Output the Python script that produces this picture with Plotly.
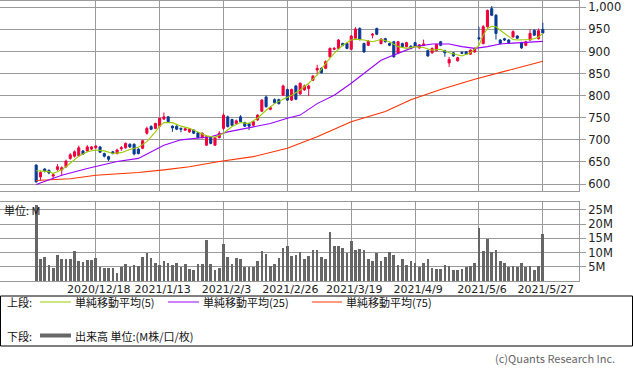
import plotly.graph_objects as go

# ---------------- data ----------------
tick_index = [14, 29, 44, 59, 74, 89, 104, 119]
tick_labels = ["2020/12/18", "2021/1/13", "2021/2/3", "2021/2/26",
               "2021/3/19", "2021/4/9", "2021/5/6", "2021/5/27"]

open_ = [643, 616, 634, 631, 618, 633, 632, 639, 658, 663,
         664, 675, 675, 679, 682, 684, 669, 662, 673, 669,
         680, 682, 690, 690, 679, 681, 715, 730, 726, 731,
         747, 752, 731, 731, 726, 722, 718, 722, 716, 705,
         688, 706, 688, 705, 726, 752, 746, 737, 752, 739,
         737, 733, 745, 765, 797, 769, 791, 791, 801, 814,
         790, 822, 804, 813, 816, 835, 858, 862, 862, 888,
         905, 907, 918, 918, 905, 930, 952, 918, 914, 937,
         952, 918, 929, 918, 922, 896, 918, 911, 912, 920,
         908, 914, 902, 897, 902, 922, 902, 874, 897, 879,
         898, 899, 894, 899, 931, 918, 956, 997, 982, 926,
         929, 926, 933, 935, 920, 914, 926, 948, 929, 950]
close = [605, 626, 630, 625, 621, 639, 637, 652, 666, 673,
         682, 668, 684, 684, 686, 672, 663, 656, 669, 677,
         682, 692, 684, 668, 669, 698, 726, 724, 737, 749,
         752, 741, 727, 724, 724, 725, 724, 715, 705, 715,
         707, 692, 705, 715, 756, 730, 733, 743, 741, 731,
         731, 741, 756, 790, 775, 773, 784, 782, 822, 790,
         814, 792, 828, 822, 822, 844, 862, 852, 877, 907,
         907, 926, 914, 907, 935, 951, 927, 899, 923, 939,
         939, 928, 922, 914, 888, 922, 911, 920, 907, 912,
         915, 917, 890, 907, 916, 914, 897, 882, 890, 886,
         896, 894, 903, 907, 929, 956, 993, 982, 941, 918,
         926, 920, 945, 930, 908, 922, 941, 937, 947, 942]
high = [644, 630, 636, 633, 625, 645, 640, 655, 670, 676,
        687, 677, 688, 686, 688, 686, 671, 664, 675, 680,
        686, 694, 692, 692, 681, 700, 730, 733, 739, 750,
        762, 754, 733, 733, 728, 727, 726, 724, 718, 717,
        710, 708, 707, 720, 760, 755, 748, 746, 756, 741,
        739, 743, 758, 792, 800, 776, 794, 793, 825, 816,
        816, 824, 830, 825, 825, 847, 870, 864, 880, 909,
        910, 928, 920, 920, 937, 955, 955, 920, 926, 942,
        954, 930, 931, 920, 924, 924, 920, 922, 914, 922,
        917, 927, 904, 909, 918, 924, 904, 888, 899, 888,
        900, 901, 905, 909, 956, 960, 995, 1003, 985, 928,
        931, 928, 948, 937, 922, 924, 950, 950, 952, 965]
low = [603, 608, 626, 622, 612, 630, 620, 637, 655, 660,
       662, 666, 672, 677, 680, 670, 660, 652, 667, 667,
       675, 680, 682, 665, 667, 679, 712, 722, 724, 729,
       745, 739, 718, 722, 717, 720, 716, 713, 703, 703,
       686, 690, 686, 703, 722, 728, 731, 735, 739, 729,
       722, 731, 743, 763, 773, 767, 782, 780, 799, 788,
       788, 790, 802, 811, 799, 833, 848, 850, 860, 886,
       903, 905, 912, 905, 903, 928, 925, 897, 912, 930,
       937, 916, 920, 912, 886, 894, 909, 909, 905, 910,
       906, 912, 888, 895, 900, 912, 888, 865, 888, 877,
       894, 892, 892, 897, 925, 916, 954, 980, 927, 916,
       924, 918, 931, 928, 906, 912, 924, 935, 927, 940]

volume_m = [26.8, 7.7, 8.4, 5.6, 4.7, 9.1, 7.7, 7.7, 7.7, 10.5,
            7.0, 6.7, 7.4, 7.4, 8.2, 5.0, 4.7, 4.7, 4.7, 2.9,
            5.0, 6.0, 5.1, 5.6, 5.3, 8.4, 9.9, 8.2, 6.2, 5.6,
            7.0, 6.3, 5.8, 6.5, 5.1, 6.0, 4.2, 3.9, 6.0, 6.0,
            14.4, 6.0, 3.9, 4.7, 13.0, 8.4, 6.0, 8.1, 7.7, 5.0,
            5.0, 5.0, 7.0, 10.5, 9.5, 5.3, 6.0, 8.1, 11.6, 12.3,
            8.8, 9.1, 10.2, 7.7, 8.7, 10.9, 10.9, 8.6, 7.9, 17.3,
            12.2, 12.2, 11.5, 9.8, 14.1, 10.8, 11.1, 10.8, 7.9, 7.2,
            9.8, 6.9, 8.6, 10.1, 9.0, 5.8, 7.6, 5.8, 6.9, 6.2,
            5.1, 6.2, 7.6, 4.7, 4.4, 4.4, 5.8, 5.4, 4.0, 3.7,
            4.4, 5.1, 5.4, 6.2, 18.7, 10.4, 14.8, 10.1, 10.8, 6.9,
            6.5, 5.1, 5.4, 5.1, 6.2, 5.1, 5.4, 4.0, 5.4, 16.6]

ma5_index = [0, 2, 3, 4, 6, 8, 10, 12, 14, 16, 18, 20, 22, 24, 26, 28, 29, 30,
             32, 34, 36, 38, 40, 42, 44, 46, 48, 50, 52, 54, 56, 58, 60, 62,
             64, 66, 68, 70, 72, 74, 75, 77, 79, 81, 83, 85, 87, 89, 91, 93,
             95, 97, 99, 100, 102, 103, 104, 105, 106, 107, 108, 109, 110,
             111, 112, 113, 115, 116, 117, 118, 119]
ma5_value = [630, 629, 628, 624, 632, 647, 663, 673, 677, 675, 669, 671, 678,
             683, 696, 718, 731, 739, 739, 731, 726, 718, 709, 706, 715, 730,
             739, 737, 749, 767, 782, 792, 801, 813, 828, 847, 873, 896, 914,
             926, 928, 926, 922, 927, 922, 911, 907, 911, 909, 903, 905, 897,
             892, 890, 897, 905, 914, 937, 952, 957, 956, 948, 941, 932, 927,
             926, 926, 927, 929, 933, 941]

ma25_index = [0, 6, 12, 19, 24, 30, 34, 41, 45, 51, 55, 59, 62, 66, 70, 74,
              78, 81, 83, 86, 89, 93, 97, 100, 103, 106, 109, 112, 115, 119]
ma25_value = [599, 620, 635, 651, 658, 688, 700, 707, 718, 730, 737, 749,
              756, 782, 801, 828, 858, 880, 888, 899, 911, 917, 917, 911,
              907, 911, 917, 919, 920, 923]

ma75_index = [0, 8, 14, 24, 30, 36, 43, 51, 59, 66, 74, 82, 88, 95, 103, 111, 119]
ma75_value = [608, 612, 620, 626, 632, 639, 651, 662, 681, 707, 741, 764,
              791, 814, 837, 858, 878]

vol_ticks = [5, 10, 15, 20, 25]
vol_tick_labels = ["5M", "10M", "15M", "20M", "25M"]

# ---------------- styling / layout helpers ----------------
W, H = 633, 373
ML, MR, MT, MB = 0, 54, 1, 92
PW, PH = W - ML - MR, H - MT - MB


def X(px):
    return (px - ML) / PW


def Y(py):
    return (MT + PH - py) / PH


FONT = "Noto Sans CJK JP"
TICKFONT = "DejaVu Sans"
GRID = "#9a9a9a"
UP = "#F0003C"
DOWN = "#0A3A94"
C5, C25, C75 = "#99CC00", "#9900FF", "#FF3300"

x = list(range(len(open_)))

fig = go.Figure()
fig.add_trace(go.Bar(x=x, y=volume_m, xaxis="x2", yaxis="y2",
                     marker=dict(color="#666666", line=dict(width=0)),
                     width=0.62, hoverinfo="skip"))
fig.add_trace(go.Scatter(x=ma75_index, y=ma75_value, mode="lines",
                         line=dict(color=C75, width=1.1), xaxis="x", yaxis="y"))
fig.add_trace(go.Scatter(x=ma25_index, y=ma25_value, mode="lines",
                         line=dict(color=C25, width=1.1), xaxis="x", yaxis="y"))
fig.add_trace(go.Scatter(x=ma5_index, y=ma5_value, mode="lines",
                         line=dict(color=C5, width=1.1), xaxis="x", yaxis="y"))
fig.add_trace(go.Candlestick(
    x=x, open=open_, high=high, low=low, close=close,
    xaxis="x", yaxis="y", whiskerwidth=0,
    increasing=dict(line=dict(color=UP, width=1), fillcolor=UP),
    decreasing=dict(line=dict(color=DOWN, width=1), fillcolor=DOWN)))

xr = [-8.5, 127.5]
common_x = dict(range=xr, tickvals=tick_index, ticktext=tick_labels,
                showgrid=True, gridcolor=GRID, gridwidth=1, zeroline=False,
                showline=True, linecolor=GRID, linewidth=1, mirror=True,
                ticks="", fixedrange=True)
yaxis_common = dict(side="right", showgrid=True, gridcolor=GRID, zeroline=False,
                    showline=True, linecolor=GRID, mirror=True,
                    ticks="outside", ticklen=6, tickcolor=GRID,
                    ticklabeloverflow="allow",
                    tickfont=dict(family=TICKFONT, size=11.5, color="#222222"))
fig.update_layout(
    width=W, height=H,
    margin=dict(l=ML, r=MR, t=MT, b=MB),
    paper_bgcolor="white", plot_bgcolor="white",
    showlegend=False, bargap=0,
    font=dict(family=FONT, size=12, color="#222222"),
    xaxis=dict(domain=[0, 1], anchor="y", showticklabels=False,
               rangeslider=dict(visible=False), **common_x),
    xaxis2=dict(domain=[0, 1], anchor="y2", showticklabels=True,
                ticklabeloverflow="allow", ticklabelshift=3,
                ticklabelstandoff=-2,
                tickfont=dict(family=TICKFONT, size=11, color="#222222"),
                **common_x),
    yaxis=dict(domain=[Y(191), 1], range=[584.2, 1014.3],
               dtick=50, tick0=600, tickformat=",d", **yaxis_common),
    yaxis2=dict(domain=[0, Y(202)], range=[0, 27.8],
                tickvals=vol_ticks, ticktext=vol_tick_labels, **yaxis_common),
)

LEG1, LEG2 = 302, 335.5
shapes = [
    dict(type="rect", xref="paper", yref="paper", x0=X(0.5), x1=X(632.5),
         y0=Y(296), y1=Y(346), line=dict(color="black", width=1)),
    dict(type="line", xref="paper", yref="paper", x0=X(40), x1=X(71),
         y0=Y(LEG1), y1=Y(LEG1), line=dict(color=C5, width=1)),
    dict(type="line", xref="paper", yref="paper", x0=X(168), x1=X(199),
         y0=Y(LEG1), y1=Y(LEG1), line=dict(color=C25, width=1)),
    dict(type="line", xref="paper", yref="paper", x0=X(312), x1=X(342),
         y0=Y(LEG1), y1=Y(LEG1), line=dict(color=C75, width=1)),
    dict(type="line", xref="paper", yref="paper", x0=X(40), x1=X(71),
         y0=Y(LEG2), y1=Y(LEG2), line=dict(color="#666666", width=4)),
]


def note(text, px, py, anchor="left", size=11, color="#111111"):
    return dict(text=text, xref="paper", yref="paper", x=X(px), y=Y(py),
                xanchor=anchor, yanchor="middle", showarrow=False,
                borderpad=0,
                font=dict(family=FONT, size=size, color=color))


annotations = [
    note("上段:", 6, LEG1),
    note("単純移動平均(5)", 74, LEG1),
    note("単純移動平均(25)", 202, LEG1),
    note("単純移動平均(75)", 345, LEG1),
    note("下段:", 6, LEG2),
    note("出来高 単位:(M株/口/枚)", 74, LEG2),
    note("単位: M", 3, 210),
    note("(c)Quants Research Inc.", 616, 358, anchor="right", color="#666666"),
]
fig.update_layout(shapes=shapes, annotations=annotations)

fig.write_html("out.html",
               config={"displayModeBar": False},
               post_script="document.body.style.margin='0';"
                           "document.body.style.overflow='hidden';")
